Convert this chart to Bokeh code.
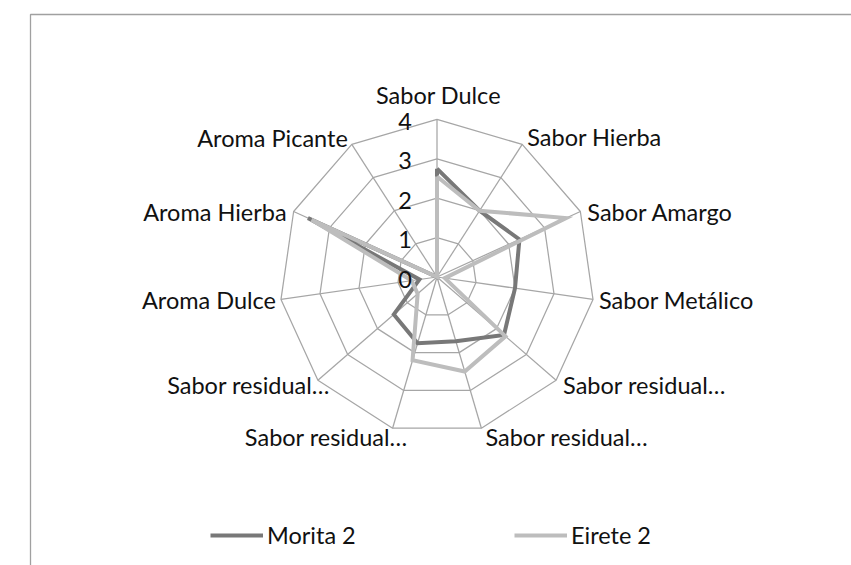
import numpy as np
from bokeh.plotting import figure
from bokeh.models import Range1d, Legend, LegendItem, ColumnDataSource
from bokeh.core.properties import value
from bokeh.embed import file_html
from bokeh.resources import INLINE

# ---- data ----
categories = ["Sabor Dulce", "Sabor Hierba", "Sabor Amargo", "Sabor Metálico",
              "Sabor residual…", "Sabor residual…", "Sabor residual…", "Sabor residual…",
              "Aroma Dulce", "Aroma Hierba", "Aroma Picante"]
morita_2 = [2.75, 2.0, 2.3, 2.0, 2.25, 1.7, 1.75, 1.45, 0.45, 3.6, 0.0]
eirete_2 = [2.55, 2.0, 3.6, 0.2, 2.3, 2.5, 2.2, 0.65, 0.65, 3.5, 0.0]
series_names = ["Morita 2", "Eirete 2"]
tick_values = [0, 1, 2, 3, 4]
tick_labels = ["0", "1", "2", "3", "4"]

# ---- styles / layout ----
FONT = "Lato"
FS = "23.5px"
W, H = 851, 565
SCALE = 39.4           # pixels per unit
FX, FY = 436.5, 276.5  # centre in frame pixels
GRID = "#a6a6a6"
DARK = "#787878"
LIGHT = "#bdbdbd"
TXT = "#111111"
# label offsets (pixels) and alignment per category
lab_dx = [1.5, 5, 7, 6, 7, 4, 15, 12, -5, -7, -4]
lab_dy = [-24, -7, 0, 1, 5, 9, 9, 5, 1, 0, -6]
lab_al = ["center", "left", "left", "left", "left", "left", "right", "right", "right", "right", "right"]

n = len(categories)
ang = np.arange(n) * 2 * np.pi / n
sx, cy = np.sin(ang), np.cos(ang)

p = figure(width=W, height=H, output_backend="svg", toolbar_location=None,
           x_range=Range1d(-FX / SCALE, (W - FX) / SCALE),
           y_range=Range1d(-(H - FY) / SCALE, FY / SCALE),
           min_border=0)
p.axis.visible = False
p.grid.visible = False
p.outline_line_color = None
p.background_fill_color = "white"

# chart-area border (left and top edges visible)
bx = (30 - FX) / SCALE
by = (FY - 14) / SCALE
p.line([bx, bx, 30], [-30, by, by], line_color="#a0a0a0", line_width=1.3)

# rings
rmax = max(tick_values)
for t in tick_values[1:]:
    p.line(list(t * sx) + [t * sx[0]], list(t * cy) + [t * cy[0]],
           line_color=GRID, line_width=1.25)
# spokes
p.segment(x0=np.zeros(n), y0=np.zeros(n), x1=rmax * sx, y1=rmax * cy,
          line_color=GRID, line_width=1.25)

def closed(vals):
    v = np.array(vals, dtype=float)
    xs = list(v * sx) + [v[0] * sx[0]]
    ys = list(v * cy) + [v[0] * cy[0]]
    return xs, ys

mx, my = closed(morita_2)
ex, ey = closed(eirete_2)
r1 = p.line(mx, my, line_color=DARK, line_width=4, line_join="miter")
r2 = p.line(ex, ey, line_color=LIGHT, line_width=4, line_join="miter")

# category labels
src = ColumnDataSource(dict(x=rmax * sx, y=rmax * cy, t=categories,
                            dx=lab_dx, dy=lab_dy, al=lab_al))
p.text(x="x", y="y", text="t", x_offset="dx", y_offset="dy", text_align="al",
       text_baseline="middle", text_font=value(FONT), text_font_size=FS,
       text_color=TXT, source=src)

# radial tick labels
p.text(x=np.zeros(len(tick_values)), y=np.array(tick_values, dtype=float), text=tick_labels,
       x_offset=-25, y_offset=2, text_align="right", text_baseline="middle",
       text_font=value(FONT), text_font_size=FS, text_color=TXT)

legend = Legend(items=[LegendItem(label=series_names[0], renderers=[r1]),
                       LegendItem(label=series_names[1], renderers=[r2])],
                orientation="horizontal", location=(210, 16),
                glyph_width=53, glyph_height=20, label_height=20, label_width=247,
                label_standoff=4, spacing=0, padding=0, margin=0,
                border_line_color=None, background_fill_alpha=0,
                label_text_font=FONT, label_text_font_size=FS,
                label_text_color=TXT)
p.add_layout(legend, "center")

open("out.html", "w").write(file_html(p, INLINE))
